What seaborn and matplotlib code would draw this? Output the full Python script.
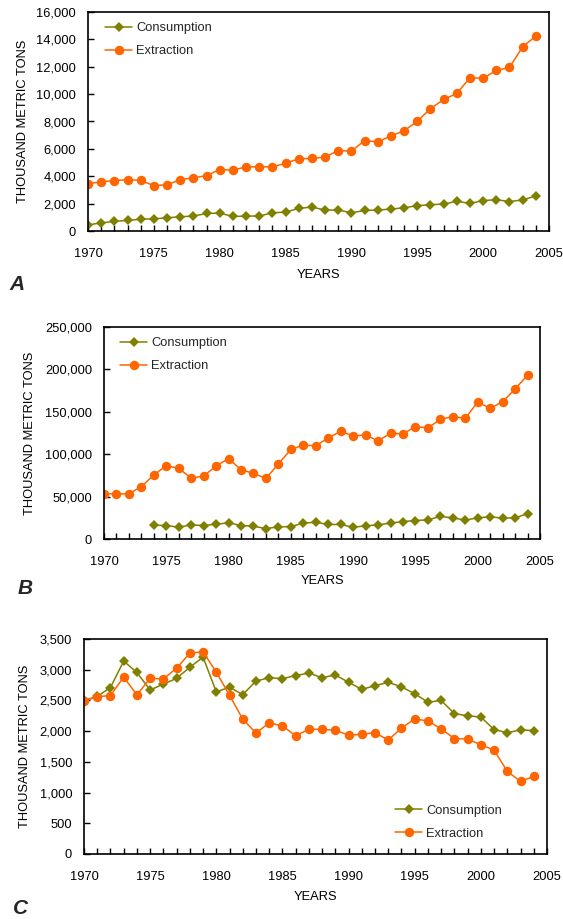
import numpy as np
import pandas as pd
import matplotlib
matplotlib.use("Agg")
import matplotlib.pyplot as plt
from matplotlib.ticker import FuncFormatter, MultipleLocator
import seaborn as sns

years = list(range(1970, 2005))

a_consumption = [450, 590, 710, 770, 860, 890, 960, 1040, 1090, 1280, 1310, 1060, 1090, 1090, 1330,
                 1380, 1650, 1750, 1530, 1530, 1330, 1500, 1530, 1600, 1700, 1850, 1920, 1970, 2170,
                 2020, 2220, 2290, 2150, 2270, 2560]
a_extraction = [3450, 3600, 3680, 3750, 3700, 3310, 3380, 3750, 3880, 4050, 4490, 4440, 4690, 4690,
                4690, 4940, 5280, 5300, 5400, 5880, 5830, 6610, 6510, 6950, 7320, 8020, 8930, 9610,
                10050, 11200, 11150, 11730, 11950, 13460, 14240]

b_consumption = [np.nan, np.nan, np.nan, np.nan, 16300, 15900, 13900, 16700, 15900, 17500, 19000,
                 15900, 15100, 12300, 14300, 14700, 18700, 19800, 17100, 17100, 13900, 15500, 16700,
                 18700, 20600, 21800, 22600, 26600, 25000, 22200, 25000, 26200, 24600, 25000, 29800]
b_extraction = [53200, 53200, 53200, 61900, 75400, 86500, 83300, 71800, 74200, 86100, 94800, 81700,
                77400, 71400, 88500, 105600, 110700, 109900, 119200, 127000, 121500, 122700, 115700,
                124700, 123900, 132500, 131000, 141100, 144300, 142300, 161500, 154000, 161900,
                176800, 193300]

c_consumption = [2500, 2565, 2710, 3140, 2955, 2670, 2765, 2860, 3040, 3205, 2640, 2715, 2595, 2815,
                 2870, 2855, 2905, 2945, 2870, 2915, 2795, 2680, 2740, 2795, 2720, 2610, 2470, 2500,
                 2285, 2250, 2230, 2025, 1975, 2020, 2010]
c_extraction = [2495, 2560, 2580, 2880, 2590, 2860, 2850, 3025, 3270, 3290, 2960, 2585, 2195, 1970,
                2135, 2085, 1925, 2030, 2030, 2015, 1935, 1950, 1975, 1855, 2050, 2200, 2165, 2035,
                1880, 1870, 1780, 1690, 1344, 1182, 1263]

series_names = ["Consumption", "Extraction"]
panel_labels = ["A", "B", "C"]
y_limits = [(0, 16000), (0, 250000), (0, 3500)]
y_steps = [2000, 50000, 500]

sns.set_theme(style="white")
plt.rcParams["font.family"] = ["Liberation Sans", "DejaVu Sans"]

colors = {"Consumption": "#808000", "Extraction": "#FF6600"}
markers = {"Consumption": "D", "Extraction": "o"}
MS = {"o": 6.8, "D": 4.8}

W, H = 563.0, 919.0
fig = plt.figure(figsize=(W / 100, H / 100), dpi=100)

# axes boxes in pixels: left, top, right, bottom
boxes = [(88, 12, 549, 231), (104, 327, 540, 539), (84, 639, 547, 854)]
label_pos = [(17, 284), (25, 589), (21, 908)]
ylabel_x = [23, 30.5, 25.5]
xlabel_y = [275, 580.7, 896.7]
legend_loc = ["upper left", "upper left", "lower right"]
legend_px = [(105, 22), (120, 337), (502, 840)]

datasets = [(a_consumption, a_extraction), (b_consumption, b_extraction), (c_consumption, c_extraction)]

for i, (cons, extr) in enumerate(datasets):
    l, t, r, b = boxes[i]
    w, h = r - l, b - t
    ax = fig.add_axes([l / W, 1 - b / H, w / W, h / H])
    df = pd.DataFrame({
        "year": years * 2,
        "value": list(cons) + list(extr),
        "series": ["Consumption"] * len(years) + ["Extraction"] * len(years),
    }).dropna()
    sns.lineplot(data=df, x="year", y="value", hue="series", style="series",
                 hue_order=series_names, style_order=series_names,
                 palette=colors, markers=markers, dashes=False, ax=ax,
                 linewidth=1.1, markeredgewidth=0, errorbar=None)
    for line in ax.get_lines():
        mk = line.get_marker()
        if mk in MS:
            line.set_markersize(MS[mk])
    ax.set_xlim(1970, 2005)
    ax.set_ylim(*y_limits[i])
    ax.xaxis.set_major_locator(MultipleLocator(5))
    ax.xaxis.set_minor_locator(MultipleLocator(1))
    ax.yaxis.set_major_locator(MultipleLocator(y_steps[i]))
    ax.yaxis.set_major_formatter(FuncFormatter(lambda v, p: f"{int(v):,}"))
    ax.tick_params(axis="x", which="both", direction="in", bottom=True, length=4, width=1,
                   labelsize=9.3, pad=12, colors="black")
    ax.tick_params(axis="y", which="major", direction="in", left=True, length=4, width=1,
                   labelsize=9.3, pad=8.5, colors="black")
    for s in ax.spines.values():
        s.set_color("black")
        s.set_linewidth(1.2)
    ax.set_xlabel("YEARS", fontsize=9.3, color="black")
    ax.set_ylabel("THOUSAND METRIC TONS", fontsize=9.3, color="black")
    ax.xaxis.set_label_coords(0.5, -(xlabel_y[i] - b) / h)
    ax.yaxis.label.set_va("center")
    ax.yaxis.set_label_coords((ylabel_x[i] - l) / w, 0.5)
    ax.xaxis.label.set_va("center")
    lx, ly = legend_px[i]
    leg = ax.legend(loc=legend_loc[i], bbox_to_anchor=((lx - l) / w, (b - ly) / h),
                    frameon=False, fontsize=9.3, handlelength=2.1, handletextpad=0.3,
                    labelspacing=0.85, borderpad=0, borderaxespad=0)
    for hd in leg.legend_handles:
        mk = hd.get_marker()
        if mk in MS:
            hd.set_markersize(MS[mk])
    x, y = label_pos[i]
    fig.text(x / W, 1 - y / H, panel_labels[i], fontsize=15, fontweight="bold",
             fontstyle="italic", va="center", ha="center")

fig.savefig("out.png", dpi=100, facecolor="white")
